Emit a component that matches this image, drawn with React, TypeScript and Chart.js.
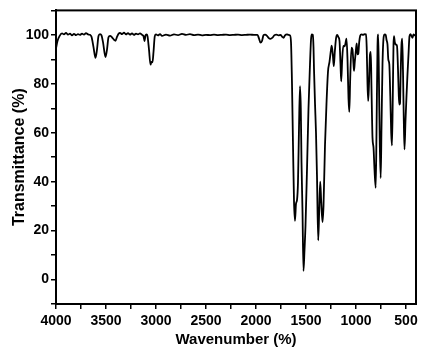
import React, { useEffect, useRef } from "react";
import { Chart, registerables } from "chart.js";

Chart.register(...registerables);

const wavenumbers: number[] = [
  4000, 3985, 3965, 3940, 3920, 3900, 3880, 3860, 3840, 3820, 3800, 3780, 3760, 3740, 3720, 3700, 3680, 3660,
  3645, 3625, 3605, 3590, 3575, 3560, 3545, 3530, 3505, 3490, 3475, 3460, 3440, 3420, 3405, 3390, 3375, 3360,
  3340, 3320, 3300, 3280, 3260, 3240, 3220, 3200, 3180, 3160, 3140, 3125, 3115, 3105, 3095, 3085, 3070, 3055,
  3045, 3035, 3025, 3012, 3000, 2980, 2960, 2940, 2900, 2860, 2820, 2780, 2740, 2700, 2660, 2620, 2580, 2540,
  2500, 2460, 2420, 2380, 2340, 2300, 2260, 2220, 2180, 2140, 2100, 2060, 2020, 1985, 1970, 1955, 1940, 1925,
  1910, 1890, 1875, 1855, 1835, 1815, 1795, 1775, 1755, 1740, 1725, 1710, 1690, 1675, 1660, 1650, 1640, 1630,
  1620, 1610, 1600, 1590, 1580, 1570, 1560, 1552, 1545, 1535, 1525, 1515, 1505, 1490, 1475, 1460, 1450, 1443,
  1432, 1425, 1420, 1410, 1400, 1390, 1378, 1368, 1358, 1348, 1335, 1325, 1310, 1295, 1280, 1265, 1250, 1243,
  1232, 1222, 1212, 1200, 1188, 1175, 1165, 1155, 1148, 1138, 1127, 1115, 1108, 1095, 1085, 1075, 1067, 1058,
  1045, 1035, 1025, 1020, 1012, 1003, 993, 985, 977, 968, 958, 945, 930, 915, 900, 893, 885, 878, 870, 860,
  852, 845, 835, 825, 815, 803, 795, 785, 778, 770, 762, 753, 745, 735, 722, 712, 703, 695, 685, 677, 667,
  657, 648, 640, 632, 625, 620, 612, 600, 590, 580, 572, 567, 560, 553, 545, 538, 530, 522, 515, 505, 495,
  485, 475, 465, 455, 445, 435, 425, 415, 405,
];

const transmittance: number[] = [
  94.5, 97.5, 99.5, 100.6, 100.2, 100.8, 100.1, 100.5, 99.8, 100.4, 99.9, 100.3, 100.0, 100.5, 100.1, 100.7, 100.2, 100.0,
  99.2, 95, 90.6, 94, 99.5, 100.3, 99.8, 97, 90.9, 94, 99, 99.6, 99, 98, 97.6, 99.2, 100.4, 100.8,
  100.3, 100.9, 100.2, 100.7, 100.1, 100.6, 100.0, 100.5, 100.2, 100.6, 100.0, 99.5, 97.5, 99.8, 100.2, 99.5, 94, 87.8,
  89, 88.8, 93, 99.5, 100.2, 99.8, 100.3, 99.6, 100.1, 99.7, 100.2, 99.9, 100.4, 100.0, 100.3, 99.9, 100.1, 99.8,
  100.0, 99.9, 100.1, 99.9, 100.0, 100.1, 99.9, 100.0, 100.1, 99.9, 100.0, 100.1, 100.0, 100.0, 98.5, 96.8, 97.5, 99.8,
  100.1, 99.6, 98.8, 98.4, 98.9, 99.9, 100.1, 99.8, 100.0, 99.3, 98.8, 99.8, 100.2, 100.0, 99.8, 97, 80, 55,
  32, 24, 31, 32.5, 40, 62, 79, 70, 48, 28, 3.5, 12, 22, 45, 70, 88, 98, 100.2,
  100, 95, 86, 72, 60, 42, 16, 28, 40, 32, 23.5, 30, 55, 72, 85, 89, 94, 95.6,
  92, 87.2, 93, 98.5, 100, 99, 97.5, 88, 81, 90, 95.5, 95.3, 96, 98.5, 90, 74, 68.5, 82,
  94.8, 94, 88, 85.3, 89, 92.8, 96.5, 92, 92.3, 97, 99.6, 100.2, 100, 100.3, 100.2, 95, 80, 73, 80, 92,
  93, 78, 58, 54, 45, 37.5, 60, 95, 100.2, 80, 55, 41.5, 62, 88, 99.5, 100.2, 100, 98, 96, 90, 88,
  75, 60, 54.8, 75, 96, 99.5, 97, 96, 95.5, 86, 75, 71.5, 72, 85, 96, 98.5, 85, 65, 53.2, 65, 75,
  84, 92, 99.5, 100.3, 99.5, 98.8, 100.2, 99.8, 100,
];

const xMajorLabels: number[] = [4000, 3500, 3000, 2500, 2000, 1500, 1000, 500];
const yMajorLabels: number[] = [0, 20, 40, 60, 80, 100];

const xTitle = "Wavenumber (%)";
const yTitle = "Transmittance (%)";

const FONT = "'Liberation Sans', Arial, Helvetica, sans-serif";

const framePlugin = {
  id: "frame",
  afterDraw(chart: any) {
    const { ctx, chartArea } = chart;
    ctx.save();
    ctx.strokeStyle = "#000";
    ctx.lineWidth = 2;
    ctx.strokeRect(chartArea.left, chartArea.top, chartArea.right - chartArea.left, chartArea.bottom - chartArea.top);
    ctx.restore();
  },
};

export default function App() {
  const ref = useRef<HTMLCanvasElement | null>(null);

  useEffect(() => {
    if (!ref.current) return;
    const points = wavenumbers.map((w, i) => ({ x: w, y: transmittance[i] }));
    const chart = new Chart(ref.current, {
      type: "line",
      data: {
        datasets: [
          {
            data: points,
            borderColor: "#000",
            borderWidth: 1.8,
            pointRadius: 0,
            cubicInterpolationMode: "monotone",
            fill: false,
          },
        ],
      },
      options: {
        responsive: false,
        animation: false,
        parsing: true,
        layout: { padding: { left: 0, right: 27, top: 9, bottom: 0 } },
        plugins: { legend: { display: false }, tooltip: { enabled: false } },
        scales: {
          x: {
            type: "linear",
            reverse: true,
            min: 400,
            max: 4000,
            afterFit: (s: any) => {
              s.height = 56;
            },
            ticks: {
              stepSize: 250,
              autoSkip: false,
              maxRotation: 0,
              includeBounds: false,
              padding: 4,
              color: "#000",
              font: { family: FONT, size: 14, weight: "bold" },
              callback: (v: any) => (xMajorLabels.includes(Number(v)) ? String(v) : ""),
            },
            grid: { drawOnChartArea: false, drawTicks: true, tickLength: 5, color: "#000", lineWidth: 1.5 },
            border: { display: true, color: "#000", width: 2 },
            title: {
              display: true,
              text: xTitle,
              color: "#000",
              font: { family: FONT, size: 15, weight: "bold" },
              padding: { top: 0, bottom: 11 },
            },
          },
          y: {
            type: "linear",
            min: -10,
            max: 110,
            afterFit: (s: any) => {
              s.width = 56;
            },
            ticks: {
              stepSize: 10,
              autoSkip: false,
              padding: 2,
              color: "#000",
              font: { family: FONT, size: 14, weight: "bold" },
              callback: (v: any) => (yMajorLabels.includes(Number(v)) ? String(v) : ""),
            },
            grid: { drawOnChartArea: false, drawTicks: true, tickLength: 5, color: "#000", lineWidth: 1.5 },
            border: { display: true, color: "#000", width: 2 },
            title: {
              display: true,
              text: yTitle,
              color: "#000",
              font: { family: FONT, size: 16, weight: "bold" },
              padding: { top: 10, bottom: 0 },
            },
          },
        },
      },
      plugins: [framePlugin],
    });
    return () => chart.destroy();
  }, []);

  return (
    <div style={{ position: "absolute", left: 0, top: 0, width: 443, height: 360, background: "#fff" }}>
      <canvas ref={ref} width={443} height={360} style={{ display: "block", width: 443, height: 360 }} />
    </div>
  );
}
